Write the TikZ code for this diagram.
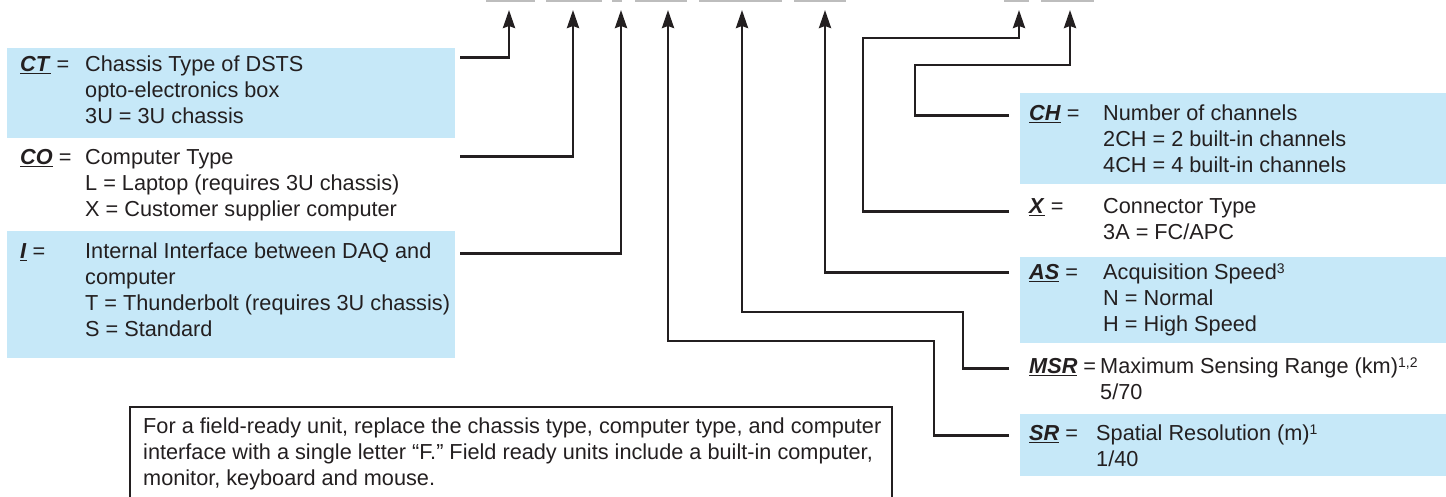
\documentclass[tikz,border=0pt]{standalone}
\usepackage{fontspec}
\setmainfont{Liberation Sans}
\usetikzlibrary{arrows.meta,positioning}
\definecolor{band}{HTML}{C6E8F8}
\definecolor{ink}{HTML}{231F20}
\definecolor{slotgray}{HTML}{BDBDBD}
\newcommand{\keyname}[1]{\sbox0{\textbf{\textit{#1}}}\rlap{\rule[-3pt]{\wd0}{1.6pt}}\usebox0}
\newcommand{\noteref}[1]{\raisebox{6pt}{\fontsize{14}{14}\selectfont #1}}

\begin{document}
\begin{tikzpicture}[x=1pt,y=-1pt,font=\fontsize{21.7}{26}\selectfont,text=ink,
shade/.style={fill=band,draw=none,anchor=north west,inner sep=0pt},
blank/.style={draw=none,anchor=north west,inner sep=0pt},
key/.style={anchor=north west,inner sep=0pt},
desc/.style={anchor=north west,inner sep=0pt,align=left},
wire/.style={draw=ink,line width=2.8pt},
arr/.style={wire,-{Stealth[length=18pt,width=12pt,inset=2pt]}},
slotline/.style={draw=slotgray,line width=2pt},
noteframe/.style={draw=ink,line width=1.2pt}]
\useasboundingbox (0,0) rectangle (1446,497);
% code slots along the top
\foreach \a/\b in {486/535,546/602,612/622,635/687,699/782,794/846,1004/1029,1041/1094}
  \draw[slotline] (\a,1) -- (\b,1);
\coordinate (ctslot) at (509,10);
\coordinate (coslot) at (573,10);
\coordinate (islot) at (621,10);
\coordinate (srslot) at (668,10);
\coordinate (msrslot) at (742,10);
\coordinate (asslot) at (825,10);
\coordinate (xslot) at (1019,10);
\coordinate (chslot) at (1070,10);
\coordinate (srknee) at (934,341);
\coordinate (msrknee) at (963,312);
\coordinate (xknee) at (863,38);
\coordinate (chknee) at (915,65);
% left bands
\node[shade,minimum width=448pt,minimum height=90pt] (ctbox) at (7,48) {};
\node[blank,minimum width=448pt,minimum height=92pt] (cobox) at (ctbox.south west) {};
\node[shade,minimum width=448pt,minimum height=127pt] (ibox) at (cobox.south west) {};
% right bands
\node[shade,minimum width=426pt,minimum height=91pt] (chbox) at (1020,93) {};
\node[blank,minimum width=426pt,minimum height=72pt] (xbox) at (chbox.south west) {};
\node[shade,minimum width=426pt,minimum height=86pt] (asbox) at (xbox.south west) {};
\node[blank,minimum width=426pt,minimum height=70pt] (msrbox) at (asbox.south west) {};
\node[shade,minimum width=426pt,minimum height=62pt] (srbox) at (msrbox.south west) {};
% left entries
\node[key] (ctkey) at (20,53) {\strut\keyname{CT} =};
\node[desc] (ctdesc) at ([xshift=65pt]ctkey.north west) {\strut Chassis Type of DSTS\\opto-electronics box\\3U = 3U chassis};
\node[key] (cokey) at (20,146) {\strut\keyname{CO} =};
\node[desc] (codesc) at ([xshift=65pt]cokey.north west) {\strut Computer Type\\L = Laptop (requires 3U chassis)\\X = Customer supplier computer};
\node[key] (ikey) at (20,240) {\strut\keyname{I} =};
\node[desc] (idesc) at ([xshift=65pt]ikey.north west) {\strut Internal Interface between DAQ and\\computer\\T = Thunderbolt (requires 3U chassis)\\S = Standard};
% right entries
\node[key] (chkey) at (1029,102) {\strut\keyname{CH} =};
\node[desc] (chdesc) at ([xshift=74pt]chkey.north west) {\strut Number of channels\\2CH = 2 built-in channels\\4CH = 4 built-in channels};
\node[key] (xkey) at (1029,195) {\strut\keyname{X} =};
\node[desc] (xdesc) at ([xshift=74pt]xkey.north west) {\strut Connector Type\\3A = FC/APC};
\node[key] (askey) at (1029,261) {\strut\keyname{AS} =};
\node[desc] (asdesc) at ([xshift=74pt]askey.north west) {\strut Acquisition Speed\noteref{3}\\N = Normal\\H = High Speed};
\node[key] (msrkey) at (1029,355) {\strut\keyname{MSR} =};
\node[desc] (msrdesc) at ([xshift=71pt]msrkey.north west) {\strut Maximum Sensing Range (km)\noteref{1,2}\\5/70};
\node[key] (srkey) at (1029,422) {\strut\keyname{SR} =};
\node[desc] (srdesc) at ([xshift=67pt]srkey.north west) {\strut Spatial Resolution (m)\noteref{1}\\1/40};
% connectors
\draw[arr] ([xshift=5pt,yshift=9pt]ctbox.east |- ctkey.west) -| (ctslot);
\draw[arr] ([xshift=5pt,yshift=3pt]cobox.east |- cokey.west) -| (coslot);
\draw[arr] ([xshift=5pt]ibox.east |- ikey.west) -| (islot);
\draw[arr] ([xshift=-11pt]srbox.west |- srkey.west) -| (srknee) -| (srslot);
\draw[arr] ([xshift=-11pt]msrbox.west |- msrkey.west) -| (msrknee) -| (msrslot);
\draw[arr] ([xshift=-11pt,yshift=2pt]asbox.west |- askey.west) -| (asslot);
\draw[arr] ([xshift=-11pt,yshift=-3pt]xbox.west |- xkey.west) -| (xknee) -| (xslot);
\draw[arr] ([xshift=-11pt]chbox.west |- chkey.west) -| (chknee) -| (chslot);
% field-ready note
\node[desc] (notetext) at (143,415) {\strut For a field-ready unit, replace the chassis type, computer type, and computer\\interface with a single letter “F.” Field ready units include a built-in computer,\\monitor, keyboard and mouse.};
\draw[noteframe] ([shift={(-13,110)}]notetext.north west) |- ([shift={(749,-8)}]notetext.north west) -- ++(0,120);
\end{tikzpicture}
\end{document}
